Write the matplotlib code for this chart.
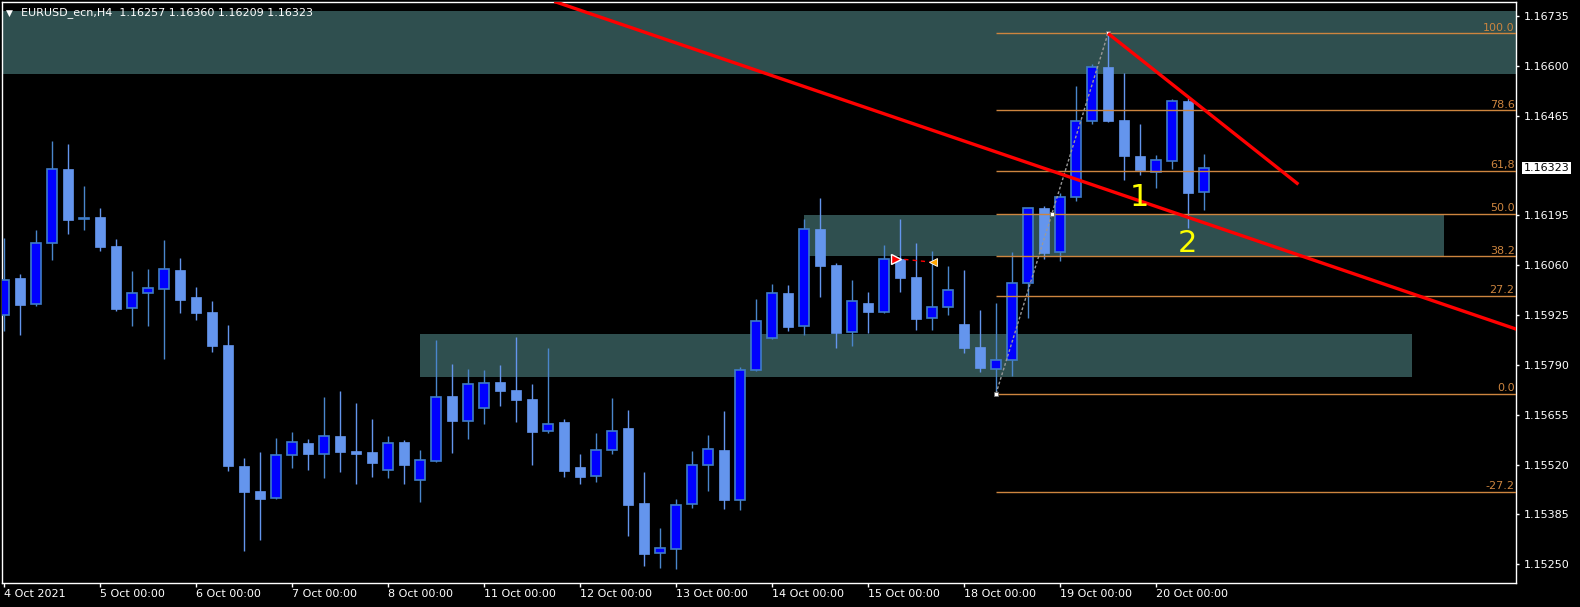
import numpy as np
import pandas as pd
import matplotlib
matplotlib.use('Agg')
import matplotlib.pyplot as plt
from matplotlib.patches import Rectangle

# H4 candles, EURUSD_ecn, 4 Oct 2021 - 20 Oct 2021
days = ['2021-10-04', '2021-10-05', '2021-10-06', '2021-10-07', '2021-10-08',
        '2021-10-11', '2021-10-12', '2021-10-13', '2021-10-14', '2021-10-15',
        '2021-10-18', '2021-10-19', '2021-10-20']

opens = [1.15924, 1.16025, 1.15954, 1.16121, 1.16320, 1.16184, 1.16190, 1.16112, 1.15943, 1.15984,
         1.15996, 1.16047, 1.15974, 1.15933, 1.15843, 1.15516, 1.15448, 1.15428, 1.15547, 1.15578,
         1.15549, 1.15597, 1.15556, 1.15553, 1.15504, 1.15581, 1.15477, 1.15530, 1.15705, 1.15639,
         1.15672, 1.15743, 1.15721, 1.15697, 1.15610, 1.15634, 1.15513, 1.15489, 1.15558, 1.15618,
         1.15415, 1.15279, 1.15290, 1.15412, 1.15520, 1.15559, 1.15425, 1.15775, 1.15862, 1.15986,
         1.15894, 1.16158, 1.16060, 1.15878, 1.15957, 1.15934, 1.16078, 1.16028, 1.15918, 1.15947,
         1.15900, 1.15838, 1.15780, 1.15802, 1.16011, 1.16214, 1.16095, 1.16246, 1.16450, 1.16597,
         1.16453, 1.16356, 1.16313, 1.16341, 1.16505, 1.16257]
highs = [1.16134, 1.16036, 1.16155, 1.16396, 1.16388, 1.16274, 1.16215, 1.16131, 1.16044, 1.16049,
         1.16128, 1.16079, 1.16001, 1.15963, 1.15898, 1.15537, 1.15553, 1.15591, 1.15608, 1.15589,
         1.15703, 1.15719, 1.15686, 1.15643, 1.15597, 1.15586, 1.15559, 1.15857, 1.15792, 1.15778,
         1.15776, 1.15789, 1.15865, 1.15738, 1.15835, 1.15643, 1.15548, 1.15605, 1.15700, 1.15667,
         1.15499, 1.15348, 1.15426, 1.15556, 1.15600, 1.15665, 1.15784, 1.15968, 1.16009, 1.16006,
         1.16185, 1.16242, 1.16066, 1.16020, 1.15987, 1.16114, 1.16185, 1.16120, 1.16098, 1.16058,
         1.16047, 1.15938, 1.15957, 1.16095, 1.16215, 1.16220, 1.16255, 1.16545, 1.16606, 1.16688,
         1.16581, 1.16442, 1.16358, 1.16510, 1.16514, 1.16360]
lows = [1.15881, 1.15871, 1.15950, 1.16075, 1.16145, 1.16156, 1.16099, 1.15936, 1.15896, 1.15896,
        1.15805, 1.15931, 1.15912, 1.15825, 1.15503, 1.15286, 1.15316, 1.15426, 1.15511, 1.15506,
        1.15484, 1.15500, 1.15467, 1.15487, 1.15484, 1.15467, 1.15418, 1.15527, 1.15552, 1.15590,
        1.15630, 1.15679, 1.15636, 1.15519, 1.15606, 1.15487, 1.15467, 1.15473, 1.15549, 1.15327,
        1.15245, 1.15240, 1.15237, 1.15402, 1.15449, 1.15400, 1.15397, 1.15773, 1.15860, 1.15882,
        1.15871, 1.15974, 1.15836, 1.15842, 1.15877, 1.15931, 1.15988, 1.15885, 1.15885, 1.15926,
        1.15823, 1.15771, 1.15712, 1.15760, 1.15917, 1.16077, 1.16072, 1.16234, 1.16443, 1.16448,
        1.16291, 1.16304, 1.16270, 1.16321, 1.16162, 1.16209]
closes = [1.16021, 1.15953, 1.16119, 1.16320, 1.16183, 1.16189, 1.16110, 1.15942, 1.15984, 1.15997,
          1.16049, 1.15966, 1.15931, 1.15842, 1.15516, 1.15446, 1.15427, 1.15547, 1.15580, 1.15549,
          1.15596, 1.15554, 1.15549, 1.15524, 1.15577, 1.15519, 1.15531, 1.15702, 1.15638, 1.15737,
          1.15742, 1.15720, 1.15695, 1.15609, 1.15631, 1.15503, 1.15487, 1.15558, 1.15612, 1.15411,
          1.15278, 1.15295, 1.15409, 1.15520, 1.15561, 1.15424, 1.15775, 1.15908, 1.15986, 1.15893,
          1.16157, 1.16058, 1.15877, 1.15962, 1.15934, 1.16076, 1.16026, 1.15915, 1.15946, 1.15992,
          1.15836, 1.15782, 1.15802, 1.16013, 1.16214, 1.16094, 1.16246, 1.16450, 1.16597, 1.16451,
          1.16356, 1.16318, 1.16344, 1.16505, 1.16256, 1.16323]

# price scale labels shown on the right
price_ticks = [1.15250, 1.15385, 1.15520, 1.15655, 1.15790, 1.15925, 1.16060,
               1.16195, 1.16465, 1.16600, 1.16735]

# zones (start bar, end bar, low price, high price)
zone_start = [-5, 50, 26]
zone_end = [100, 90, 88]
zone_low = [1.16579, 1.16086, 1.15758]
zone_high = [1.16749, 1.16196, 1.15873]

# fibonacci retracement from bar 62 low to bar 69 high
fib_bars = [62, 69]
fib_low = 1.15712
fib_high = 1.16688
fib_levels = [0.0, 27.2, 38.2, 50.0, 61.8, 78.6, 100.0, -27.2]
fib_texts = ['0.0', '27.2', '38.2', '50.0', '61,8', '78.6', '100.0', '-27.2']

# red trend lines
trend1_x = [34.7, 94.5]
trend1_y = [1.16770, 1.15887]
trend2_x = [69, 80.9]
trend2_y = [1.16688, 1.16279]

# number labels
marks = ['1', '2']
marks_x = [70.94, 73.94]
marks_y = [1.16244, 1.16120]

# trade arrow
trade_x = [55.75, 58.06]
trade_y = [1.16078, 1.16068]

# bar times
times = [pd.Timestamp(d) + pd.Timedelta(hours=4 * k) for d in days for k in range(6)]
times = times[:len(closes)]
x = np.arange(len(closes))
o = np.array(opens)
c = np.array(closes)
bull = c >= o

W, H = 1580, 607
fig = plt.figure(figsize=(W / 100, H / 100), dpi=100, facecolor='black')
ax = fig.add_axes([2 / W, 1 - 583 / H, (1516 - 2) / W, (583 - 2) / H])
ax.set_facecolor('black')

# zones
for s, e, lo, hi in zip(zone_start, zone_end, zone_low, zone_high):
    ax.add_patch(Rectangle((s, lo), e - s, hi - lo, facecolor='#2F4F4F', edgecolor='none', zorder=1))

# candles
wick_col = np.where(bull, '#4A86CC', '#6495ED')
ax.vlines(x, lows, highs, colors=wick_col, linewidth=1, zorder=2)
body_h = np.maximum(np.abs(c - o), 0.00003)
body_b = np.minimum(o, c)
ax.bar(x[bull], body_h[bull], bottom=body_b[bull], width=0.67,
       color='#0000FF', edgecolor='#3F7CC8', linewidth=1.2, zorder=3)
ax.bar(x[~bull], body_h[~bull], bottom=body_b[~bull], width=0.67,
       color='#6495ED', edgecolor='#6495ED', linewidth=0.5, zorder=3)

# fibonacci levels
fib_col = '#CD853F'
for lvl, txt in zip(fib_levels, fib_texts):
    p = fib_low + lvl / 100 * (fib_high - fib_low)
    ax.hlines(p, fib_bars[0], 100, color=fib_col, linewidth=1, zorder=4)
    ax.annotate(txt, xy=(1, p), xycoords=('axes fraction', 'data'), xytext=(-1, 1.8),
                textcoords='offset points', ha='right', va='baseline',
                color=fib_col, fontsize=8, zorder=7)
ax.plot(fib_bars, [fib_low, fib_high], color='#9A9A9A', linestyle=(0, (2, 1.5)),
        linewidth=1, zorder=5)
ax.plot([fib_bars[0], np.mean(fib_bars), fib_bars[1]],
        [fib_low, (fib_low + fib_high) / 2, fib_high],
        linestyle='none', marker='s', markersize=3.5, markerfacecolor='white',
        markeredgecolor='#707070', markeredgewidth=0.6, zorder=6)

# trend lines
ax.axline((trend1_x[0], trend1_y[0]), (trend1_x[1], trend1_y[1]), color='red', linewidth=2.4, zorder=6)
ax.plot(trend2_x, trend2_y, color='red', linewidth=2.4, solid_capstyle='butt', zorder=6)

# trade arrow
ax.plot(trade_x, trade_y, color='red', linestyle=(0, (3, 3)), linewidth=1, zorder=6)
ax.plot(trade_x[0], trade_y[0], marker='>', markersize=7, color='red',
        markeredgecolor='white', markeredgewidth=1, zorder=7)
ax.plot(trade_x[1], trade_y[1], marker='<', markersize=6, color='#FFA500',
        markeredgecolor='white', markeredgewidth=0.6, zorder=7)

# number labels
for t, mx, my in zip(marks, marks_x, marks_y):
    ax.text(mx, my, t, color='#FFFF00', fontsize=22, ha='center', va='center', zorder=8)

# axes limits and ticks
ax.set_xlim(-0.125, 94.5)
ax.set_ylim(1.15199, 1.16773)
for sp in ax.spines.values():
    sp.set_color('white')
    sp.set_linewidth(1)

ax.yaxis.tick_right()
ax.set_yticks(price_ticks)
ax.set_yticklabels([f'{v:.5f}' for v in price_ticks])
ax.tick_params(axis='y', colors='white', labelsize=8, length=2.2, width=1, pad=3.2)

tick_idx = [i for i, t in enumerate(times) if t.hour == 0]
tick_lab = []
for i in tick_idx:
    t = times[i]
    tick_lab.append(f'{t.day} {t:%b} {t.year}' if i == 0 else f'{t.day} {t:%b} 00:00')
ax.set_xticks(tick_idx)
ax.set_xticklabels(tick_lab)
ax.tick_params(axis='x', colors='white', labelsize=8, length=3, width=1, pad=1.5)
for lab in ax.get_xticklabels():
    lab.set_horizontalalignment('left')

# current price label
ax.annotate(f'{closes[-1]:.5f}', xy=(1, closes[-1]), xycoords=('axes fraction', 'data'),
            xytext=(5.5, 0), textcoords='offset points', ha='left', va='center',
            color='black', fontsize=8,
            bbox=dict(boxstyle='square,pad=0.12', facecolor='white', edgecolor='none'),
            annotation_clip=False)

# header
fig.text(6 / W, 1 - 13 / H, '\u25BC', color='white', fontsize=6.5, va='center')
fig.text(21 / W, 1 - 13 / H,
         f'EURUSD_ecn,H4  {opens[-1]:.5f} {highs[-1]:.5f} {lows[-1]:.5f} {closes[-1]:.5f}',
         color='white', fontsize=8, va='center')

plt.savefig('out.png', dpi=100, facecolor='black')
